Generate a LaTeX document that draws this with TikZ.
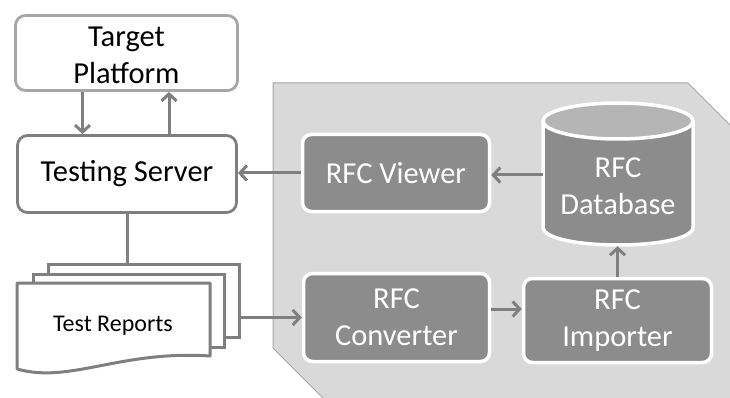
\documentclass[tikz,border=0pt]{standalone}
\usepackage{fontspec}
\setmainfont{Carlito}
\usetikzlibrary{arrows.meta}
\definecolor{panelc}{HTML}{D9D9D9}
\definecolor{paneledge}{HTML}{A6A6A6}
\definecolor{darkc}{HTML}{8C8C8C}
\definecolor{topc}{HTML}{B5B5B5}
\definecolor{linec}{HTML}{7F7F7F}
\definecolor{lightedge}{HTML}{A6A6A6}
\tikzset{
  bigfont/.style={font=\fontsize{30.5}{37}\selectfont},
  whitebox/.style={draw=linec, fill=white, line width=2.8pt, rounded corners=10pt, inner sep=0pt, align=center, bigfont},
  graybox/.style={draw=white, fill=darkc, text=white, line width=3.5pt, rounded corners=9pt, inner sep=0pt, align=center, bigfont},
  sheet/.style={draw=linec, fill=white, line width=3pt, inner sep=0pt},
  arr/.style={draw=linec, line width=3pt, -{Straight Barb[length=7pt,width=15pt]}},
  conn/.style={draw=linec, line width=3pt},
}
\begin{document}
\begin{tikzpicture}[x=1pt,y=-1pt]
\useasboundingbox (0,0) rectangle (730,398);
% panel
\fill[panelc] (273,83) -- (688,83) -- (730,125) -- (730,398) -- (323,398) -- (273,348) -- cycle;
\draw[paneledge, line width=1pt] (730,125) -- (688,83) -- (273,83) -- (273,348) -- (323,398);
% left boxes
\node[whitebox, draw=lightedge, minimum width=222pt, minimum height=75pt] (tp) at (126.5,53) {};
\node[bigfont, align=center, inner sep=0pt] (tptext) at (126.5,55) {Target\\Platform};
\node[whitebox, minimum width=219pt, minimum height=77pt] (ts) at (127,174) {Testing Server};
% stack of reports
\node[sheet, minimum width=191pt, minimum height=73pt] (back) at (143.5,300.5) {};
\node[sheet, minimum width=191pt, minimum height=73pt] (mid) at (128.5,310.5) {};
\draw[sheet, line join=round] (17,283) -- (210,283) -- (210,356) .. controls (120,350) and (70,384) .. (17,369) -- cycle;
\node[font=\fontsize{24}{29}\selectfont, inner sep=0pt] (rep) at (113,326) {Test Reports};
% right boxes
\node[graybox, minimum width=187pt, minimum height=77pt] (viewer) at (396,173) {RFC Viewer};
\node[graybox, minimum width=186pt, minimum height=88pt] (conv) at (396.5,317.5) {RFC\\Converter};
\node[graybox, minimum width=188pt, minimum height=84pt] (imp) at (617.5,320.5) {RFC\\Importer};
% database cylinder
\fill[darkc] (543,121) -- (543,227) .. controls (543,251) and (693,251) .. (693,227) -- (693,121) -- cycle;
\fill[topc] (618,121) ellipse [x radius=75, y radius=18];
\draw[white, line width=3.5pt] (618,121) ellipse [x radius=75, y radius=18];
\draw[white, line width=3.5pt, line join=round] (543,121) -- (543,227) .. controls (543,251) and (693,251) .. (693,227) -- (693,121);
\node[minimum width=150pt, minimum height=142pt, inner sep=0pt] (db) at (618,175) {};
\node[bigfont, text=white, align=center, inner sep=0pt] (dbtext) at (618,186) {RFC\\Database};
% connectors
\draw[arr] ([xshift=-44pt]tp.south) -- ([xshift=-44pt]tp.south |- ts.north);
\draw[arr] ([xshift=42pt]ts.north) -- ([xshift=42pt]ts.north |- tp.south);
\draw[conn] (ts.south) -- (ts.south |- back.north);
\draw[arr] (viewer.west) -- (viewer.west -| ts.east);
\draw[arr] (db.west) -- (db.west -| viewer.east);
\draw[arr] (conv.west -| back.east) -- (conv.west);
\draw[arr] ([yshift=8.5pt]conv.east) -- ([yshift=8.5pt]conv.east -| imp.west);
\draw[arr] (imp.north) -- (imp.north |- db.south);
\end{tikzpicture}
\end{document}
